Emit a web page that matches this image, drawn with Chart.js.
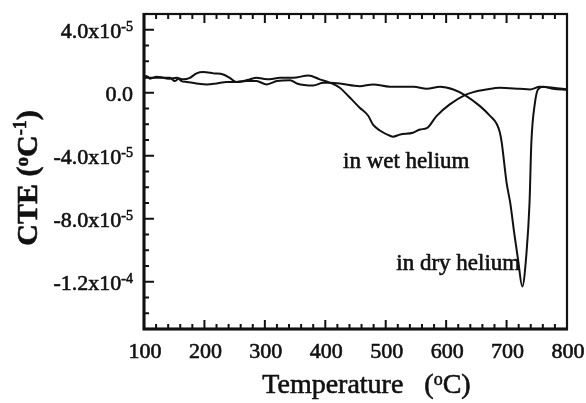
<!DOCTYPE html>
<html lang="en">
<head>
  <meta charset="UTF-8">
  <title>CTE vs Temperature</title>
  <script src="https://cdn.jsdelivr.net/npm/chart.js@4"></script>
  <style>
    html, body { margin: 0; padding: 0; background: #fff; }
    canvas { display: block; }
  </style>
</head>
<body>

<canvas id="cteChart" width="586" height="403"></canvas>

<script>
  // wet helium run: temperature (°C) and CTE (1/°C)
  const tempWet = [100, 104, 110, 121, 132, 143, 154, 165, 176, 187, 198, 215, 231, 242, 253, 264, 275, 286, 297, 308,
                   325, 347, 372, 391, 408, 424, 441, 457, 471, 479, 491, 507, 512, 524, 545, 557, 568, 584, 606, 631,
                   645, 667, 689, 722, 739, 755, 777, 800];
  const cteWet = [0.95e-5, 1.06e-5, 0.89e-5, 1.02e-5, 0.95e-5, 0.89e-5, 0.95e-5, 0.85e-5, 0.95e-5, 1.23e-5, 1.31e-5, 1.23e-5,
                  1.16e-5, 0.95e-5, 0.68e-5, 0.74e-5, 0.85e-5, 0.95e-5, 0.89e-5, 0.85e-5, 0.95e-5, 0.95e-5, 1.10e-5, 0.85e-5,
                  0.63e-5, 0.32e-5, -0.32e-5, -0.95e-5, -1.46e-5, -2.03e-5, -2.41e-5, -2.73e-5, -2.79e-5, -2.65e-5, -2.54e-5,
                  -2.33e-5, -2.25e-5, -1.48e-5, -0.74e-5, -0.15e-5, 0.04e-5, 0.21e-5, 0.32e-5, 0.25e-5, 0.21e-5, 0.38e-5,
                  0.32e-5, 0.21e-5];

  // dry helium run
  const tempDry = [100, 110, 121, 132, 143, 151, 157, 162, 171, 187, 204, 220, 237, 253, 270, 286, 303, 320, 342, 353,
                   380, 397, 408, 424, 457, 479, 507, 546, 568, 590, 612, 631, 656, 673, 684, 689, 692, 700, 706, 713,
                   719, 726, 733, 738, 741, 747, 752, 761, 777, 800];
  const cteDry = [0.95e-5, 0.95e-5, 0.95e-5, 0.95e-5, 0.95e-5, 0.74e-5, 0.89e-5, 0.74e-5, 0.68e-5, 0.59e-5, 0.53e-5, 0.59e-5,
                  0.68e-5, 0.68e-5, 0.74e-5, 0.74e-5, 0.53e-5, 0.74e-5, 0.80e-5, 0.59e-5, 0.46e-5, 0.63e-5, 0.63e-5, 0.59e-5,
                  0.42e-5, 0.53e-5, 0.38e-5, 0.38e-5, 0.25e-5, 0.38e-5, 0.21e-5, -0.15e-5, -0.85e-5, -1.48e-5, -2.0e-5,
                  -2.54e-5, -3.17e-5, -5.71e-5, -6.98e-5, -9.0e-5, -10.6e-5, -12.3e-5, -10.16e-5, -6.98e-5, -3.17e-5,
                  -0.63e-5, 0.21e-5, 0.38e-5, 0.25e-5, 0.19e-5];

  // axis labels
  const xTickValues = [100, 200, 300, 400, 500, 600, 700, 800];
  const yTickValues = [4e-5, 0, -4e-5, -8e-5, -1.2e-4];
  const yTickMantissa = ['4.0x10', '0.0', '-4.0x10', '-8.0x10', '-1.2x10'];
  const yTickExponent = ['-5', '', '-5', '-5', '-4'];

  const seriesNames = ['in wet helium', 'in dry helium'];

  const FONT = '"Liberation Serif", "Times New Roman", serif';

  function toPoints(xs, ys) {
    return xs.map((x, i) => ({ x: x, y: ys[i] }));
  }

  // draws a row of text pieces (small raised pieces use dy)
  function drawRuns(ctx, runs, x, y, align) {
    let total = 0;
    runs.forEach(r => {
      ctx.font = (r.bold ? 'bold ' : '') + r.size + 'px ' + FONT;
      r.w = ctx.measureText(r.t).width;
      total += r.w;
    });
    let cx = align === 'right' ? x - total : align === 'center' ? x - total / 2 : x;
    ctx.textAlign = 'left';
    ctx.textBaseline = 'alphabetic';
    ctx.lineWidth = 0.6;
    ctx.lineJoin = 'round';
    runs.forEach(r => {
      ctx.font = (r.bold ? 'bold ' : '') + r.size + 'px ' + FONT;
      ctx.fillText(r.t, cx, y + (r.dy || 0));
      ctx.strokeText(r.t, cx, y + (r.dy || 0));
      cx += r.w;
    });
  }

  const framePlugin = {
    id: 'frame',
    afterDraw(chart) {
      const { ctx, chartArea: a, scales: { x, y } } = chart;
      ctx.save();
      ctx.strokeStyle = '#111';
      ctx.fillStyle = '#111';

      // box
      ctx.lineWidth = 2.2;
      ctx.strokeRect(a.left, a.top, a.right - a.left, a.bottom - a.top);
      ctx.lineWidth = 3;
      ctx.beginPath();
      ctx.moveTo(a.left, a.top - 1);
      ctx.lineTo(a.left, a.bottom);
      ctx.lineTo(a.right + 1, a.bottom);
      ctx.stroke();

      // inward ticks, top and bottom
      ctx.lineWidth = 2;
      x.ticks.forEach(t => {
        const px = x.getPixelForValue(t.value);
        const major = Math.abs(t.value % 100) < 1e-6;
        const len = major ? 9 : 5;
        ctx.beginPath();
        ctx.moveTo(px, a.bottom);
        ctx.lineTo(px, a.bottom - len);
        ctx.moveTo(px, a.top);
        ctx.lineTo(px, a.top + len);
        ctx.stroke();
      });

      // inward ticks, left
      y.ticks.forEach(t => {
        const py = y.getPixelForValue(t.value);
        const q = t.value / 4e-5;
        const major = Math.abs(q - Math.round(q)) < 1e-6;
        const len = major ? 10 : 5;
        ctx.beginPath();
        ctx.moveTo(a.left, py);
        ctx.lineTo(a.left + len, py);
        ctx.stroke();
      });

      // x tick labels
      xTickValues.forEach(v => {
        drawRuns(ctx, [{ t: String(v), size: 22 }], x.getPixelForValue(v) + 1, a.bottom + 29, 'center');
      });

      // y tick labels
      yTickValues.forEach((v, i) => {
        const runs = [{ t: yTickMantissa[i], size: 22 }];
        if (yTickExponent[i]) runs.push({ t: yTickExponent[i], size: 14, dy: -7 });
        drawRuns(ctx, runs, a.left - 11, y.getPixelForValue(v) + 8, 'right');
      });

      // x title
      drawRuns(ctx, [
        { t: 'Temperature   (', size: 28 },
        { t: 'o', size: 18, dy: -8 },
        { t: 'C)', size: 28 }
      ], (a.left + a.right) / 2 + 11, 393, 'center');

      // y title
      ctx.save();
      ctx.translate(37, 178);
      ctx.rotate(-Math.PI / 2);
      drawRuns(ctx, [
        { t: 'CTE (', size: 30, bold: true },
        { t: 'o', size: 19, dy: -9, bold: true },
        { t: 'C', size: 30, bold: true },
        { t: '-1', size: 18, dy: -11, bold: true },
        { t: ')', size: 30, bold: true }
      ], 0, 0, 'center');
      ctx.restore();

      // curve labels
      const labelAnchors = [[534, -4.76e-5], [620, -11.24e-5]];
      seriesNames.forEach((name, i) => {
        drawRuns(ctx, [{ t: name, size: 23 }],
          x.getPixelForValue(labelAnchors[i][0]), y.getPixelForValue(labelAnchors[i][1]), 'center');
      });

      ctx.restore();
    }
  };

  const hiddenAxis = {
    grid: { display: false, drawTicks: false },
    border: { display: false },
  };

  const ctx = document.getElementById('cteChart').getContext('2d');

  const cteChart = new Chart(ctx, {
    type: 'line',
    data: {
      datasets: [{
        label: seriesNames[0],
        data: toPoints(tempWet, cteWet),
        borderColor: '#111',
        borderWidth: 2,
        pointRadius: 0,
        cubicInterpolationMode: 'monotone',
        fill: false
      }, {
        label: seriesNames[1],
        data: toPoints(tempDry, cteDry),
        borderColor: '#111',
        borderWidth: 2,
        pointRadius: 0,
        cubicInterpolationMode: 'monotone',
        fill: false
      }]
    },
    options: {
      responsive: false,
      animation: false,
      layout: { padding: { left: 144, right: 19, top: 14, bottom: 74 } },
      plugins: { legend: { display: false }, tooltip: { enabled: false } },
      scales: {
        x: Object.assign({
          type: 'linear', min: 100, max: 800,
          ticks: { display: false, stepSize: 20, maxTicksLimit: 100 },
          afterFit(scale) { scale.height = 0; }
        }, hiddenAxis),
        y: Object.assign({
          type: 'linear', min: -1.5e-4, max: 5e-5,
          ticks: { display: false, stepSize: 1e-5, maxTicksLimit: 100 },
          afterFit(scale) { scale.width = 0; }
        }, hiddenAxis)
      }
    },
    plugins: [framePlugin]
  });
</script>

</body>
</html>
